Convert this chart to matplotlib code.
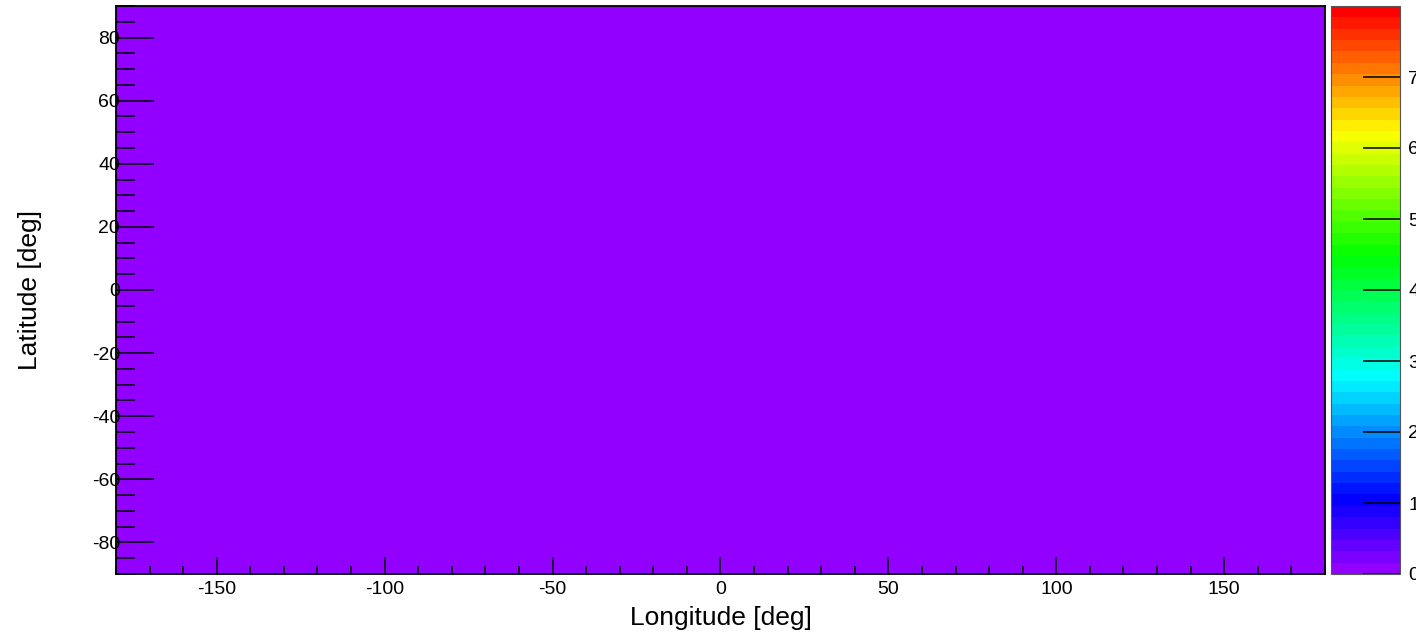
import colorsys
import numpy as np
import matplotlib
matplotlib.use("Agg")
import matplotlib.pyplot as plt
from matplotlib.colors import ListedColormap, Normalize
from matplotlib.ticker import MultipleLocator

plt.rcParams["font.family"] = ["Liberation Sans", "DejaVu Sans"]
plt.rcParams["axes.unicode_minus"] = False

# histogram binning (lon x lat) and bin contents -- every bin is empty
lon_edges = np.arange(-180, 181, 5)
lat_edges = np.arange(-90, 91, 5)
counts = np.zeros((len(lat_edges) - 1, len(lon_edges) - 1))
z_min, z_max = 0, 8
z_ticks = [0, 1, 2, 3, 4, 5, 6, 7]

# ROOT "pretty" rainbow palette, 50 colours, hue 280 -> 0
n_pal = 50
pal = [colorsys.hls_to_rgb((280 - (i + 1) * 280 / n_pal) / 360.0, 0.5, 1.0) for i in range(n_pal)]
cmap = ListedColormap(pal)
norm = Normalize(vmin=z_min, vmax=z_max)

W, H = 1416, 633
fig = plt.figure(figsize=(W / 100, H / 100), dpi=100)
ax = fig.add_axes([116 / W, 1 - 574 / H, (1325 - 116) / W, (574 - 6) / H])
cax = fig.add_axes([1331 / W, 1 - 574 / H, (1400 - 1331) / W, (574 - 6) / H])

ax.pcolormesh(lon_edges, lat_edges, counts, cmap=cmap, norm=norm)
ax.set_xlim(-180, 180)
ax.set_ylim(-90, 90)

ax.xaxis.set_major_locator(MultipleLocator(50))
ax.xaxis.set_minor_locator(MultipleLocator(10))
ax.yaxis.set_major_locator(MultipleLocator(20))
ax.yaxis.set_minor_locator(MultipleLocator(5))
ax.tick_params(axis="x", which="major", direction="in", length=12, width=1.1, labelsize=14, pad=5)
ax.tick_params(axis="x", which="minor", direction="in", length=6, width=1.1)
ax.tick_params(axis="y", which="major", direction="in", length=27, width=1.1, labelsize=14, pad=-3)
ax.tick_params(axis="y", which="minor", direction="in", length=13.5, width=1.1)
for lab in ax.get_yticklabels():
    lab.set_zorder(5)
for sp in ax.spines.values():
    sp.set_linewidth(1.3)
    sp.set_zorder(6)

ax.set_xlabel("Longitude [deg]", fontsize=19, labelpad=6)
ax.set_ylabel("Latitude [deg]", fontsize=19, labelpad=36)

cb = fig.colorbar(plt.cm.ScalarMappable(norm=norm, cmap=cmap), cax=cax)
cb.set_ticks(z_ticks)
cb.outline.set_linewidth(0.8)
cb.outline.set_edgecolor("#555555")
cax.tick_params(direction="in", length=27, width=1.1, labelsize=14, pad=6)

fig.savefig("out.png", dpi=100)
